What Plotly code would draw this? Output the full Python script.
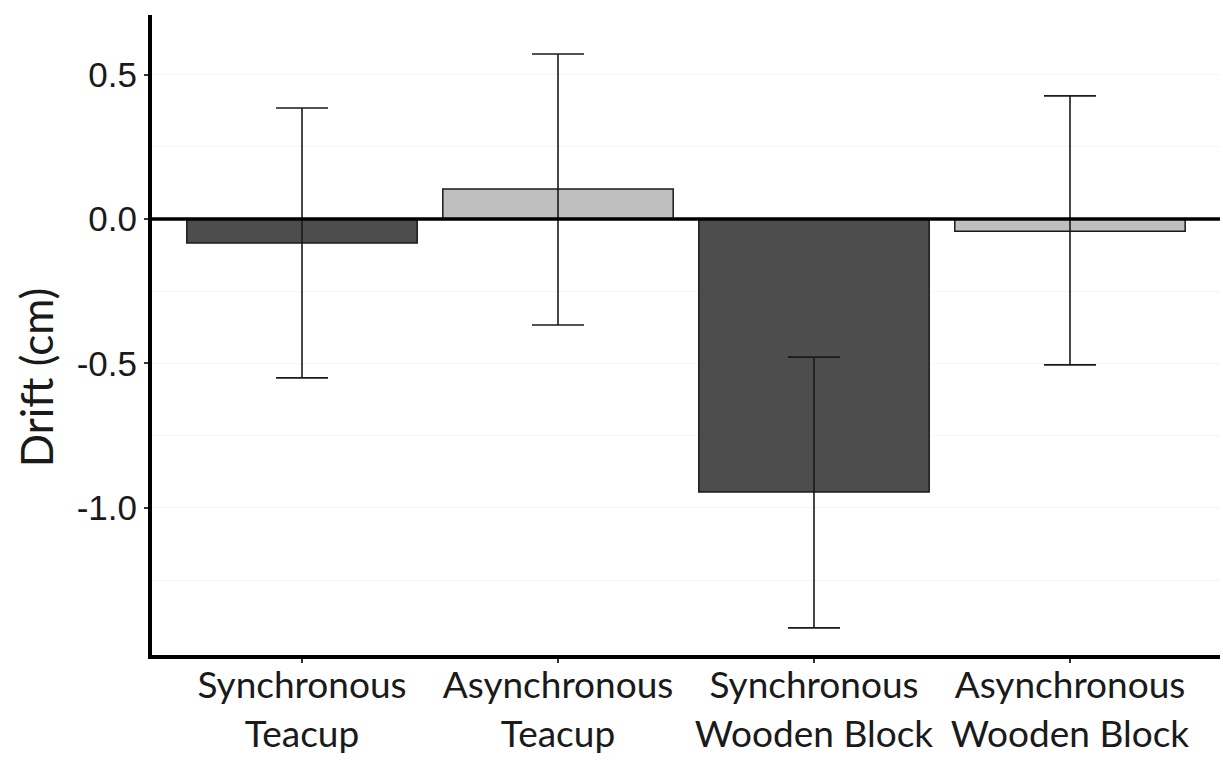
import plotly.graph_objects as go

categories = ["Synchronous<br>Teacup", "Asynchronous<br>Teacup",
              "Synchronous<br>Wooden Block", "Asynchronous<br>Wooden Block"]
means = [-0.083, 0.104, -0.945, -0.042]
upper = [0.384, 0.571, -0.478, 0.426]
lower = [-0.550, -0.367, -1.415, -0.505]
colors = ["#4d4d4d", "#bfbfbf", "#4d4d4d", "#bfbfbf"]
yticks = [0.5, 0.0, -0.5, -1.0]
yticklabels = ["0.5", "0.0", "-0.5", "-1.0"]
y_title = "Drift (cm)"

err_plus = [u - m for u, m in zip(upper, means)]
err_minus = [m - l for m, l in zip(means, lower)]

fig = go.Figure()
fig.add_trace(go.Bar(
    x=list(range(len(categories))), y=means, width=0.9,
    marker=dict(color=colors, line=dict(color="#1a1a1a", width=1.5)),
    error_y=dict(type="data", symmetric=False, array=err_plus, arrayminus=err_minus,
                 color="#1a1a1a", thickness=1.6, width=26),
    showlegend=False,
))
fig.add_hline(y=0, line=dict(color="black", width=3.5), layer="above")

fig.add_annotation(
    text=y_title, xref="paper", yref="paper", x=-0.1086, y=0.434,
    xanchor="center", yanchor="middle", textangle=-90, showarrow=False,
    font=dict(family="Lato", size=44, color="#1a1a1a"),
)

fig.update_layout(
    width=1223, height=760,
    margin=dict(l=152, r=3, t=15, b=105),
    paper_bgcolor="white", plot_bgcolor="white",
    bargap=0.1,
)
fig.update_xaxes(
    range=[-0.586, 3.586], tickvals=list(range(len(categories))), ticktext=categories,
    showline=True, linecolor="black", linewidth=4,
    ticks="outside", ticklen=4, tickwidth=2, tickcolor="#333333",
    tickfont=dict(family="Lato", size=37, color="#1a1a1a"),
    ticklabelstandoff=-9,
    showgrid=False, zeroline=False, automargin=False,
)
fig.update_yaxes(
    range=[-1.509, 0.706], tickvals=yticks, ticktext=yticklabels,
    showline=True, linecolor="black", linewidth=4,
    ticks="outside", ticklen=4, tickwidth=2, tickcolor="#333333",
    tickfont=dict(family="Liberation Sans", size=35, color="#1a1a1a"),
    showgrid=True, gridcolor="#f6f6f6", gridwidth=1,
    minor=dict(dtick=0.25, tick0=0, showgrid=True, gridcolor="#f6f6f6", ticks=""),
    zeroline=False, automargin=False,
)
fig.write_html("out.html")
